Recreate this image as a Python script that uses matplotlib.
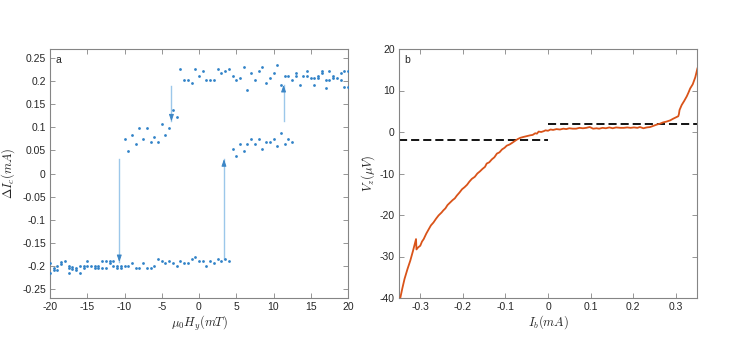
import matplotlib
matplotlib.use("Agg")
import matplotlib.pyplot as plt
import numpy as np

plt.rcParams['font.family'] = ['Liberation Sans', 'DejaVu Sans']
plt.rcParams['mathtext.fontset'] = 'cm'

# ---------------- Panel a data ----------------
low_x = [-20, -20, -19.5, -19.5, -19, -19, -18.5, -18.5, -18, -17.5, -17.5, -17.5,
         -17, -17, -16.5, -16.5, -16, -16, -15.5, -15.5, -15, -15, -14.5, -14, -14,
         -13.5, -13.5, -13, -13, -12.5, -12.5, -12, -12, -11.5, -11.5, -11, -11,
         -10.5, -10.5, -10, -9.5, -9, -8.5, -8, -7.5, -7, -6.5, -6, -5.5, -5, -4.5,
         -4, -3.5, -3, -2.5, -2, -1.5, -1, -0.5, 0, 0.5, 1, 1.5, 2, 2.5, 3, 3.5, 4]
low_y = [-0.195, -0.216, -0.206, -0.209, -0.201, -0.210, -0.197, -0.193, -0.189, -0.204, -0.200, -0.216,
         -0.202, -0.207, -0.209, -0.206, -0.200, -0.216, -0.200, -0.206, -0.190, -0.200, -0.200, -0.204, -0.200,
         -0.204, -0.200, -0.190, -0.204, -0.190, -0.204, -0.190, -0.195, -0.200, -0.190, -0.200, -0.204,
         -0.200, -0.204, -0.200, -0.200, -0.195, -0.204, -0.204, -0.195, -0.204, -0.204, -0.200, -0.186, -0.190, -0.195,
         -0.190, -0.195, -0.200, -0.190, -0.195, -0.195, -0.186, -0.181, -0.190, -0.190, -0.200, -0.190, -0.195, -0.186, -0.190, -0.186, -0.190]

midl_x = [-10, -9.5, -9, -8.5, -8, -7.5, -7, -6.5, -6, -5.5, -5, -4.5, -4, -3.5, -3]
midl_y = [0.074, 0.049, 0.083, 0.063, 0.098, 0.074, 0.098, 0.069, 0.079, 0.069, 0.108, 0.083, 0.098, 0.138, 0.122]

up_x = [-2.5, -2, -1.5, -1, -0.5, 0, 0.5, 1, 1.5, 2, 2.5, 3, 3.5, 4, 4.5, 5, 5.5, 6, 6.5, 7,
        7.5, 8, 8.5, 9, 9.5, 10, 10.5, 11, 11.5, 12, 12.5, 13, 13, 13.5, 14, 14.5, 14.5, 15,
        15.5, 15.5, 16, 16, 16.5, 16.5, 17, 17, 17.5, 17.5, 18, 18, 18.5, 19, 19, 19.5, 19.5, 20, 20]
up_y = [0.227, 0.202, 0.202, 0.197, 0.227, 0.212, 0.222, 0.202, 0.202, 0.202, 0.227, 0.217, 0.222, 0.227, 0.212, 0.202, 0.207, 0.231, 0.182, 0.217,
        0.202, 0.222, 0.231, 0.197, 0.207, 0.217, 0.236, 0.192, 0.212, 0.212, 0.202, 0.217, 0.212, 0.192, 0.212, 0.212, 0.222, 0.207,
        0.192, 0.207, 0.207, 0.212, 0.217, 0.222, 0.185, 0.202, 0.222, 0.202, 0.212, 0.207, 0.207, 0.217, 0.202, 0.222, 0.187, 0.222, 0.187]

midr_x = [4.5, 5, 5.5, 6, 6.5, 7, 7.5, 8, 8.5, 9, 9.5, 10, 10.5, 11, 11.5, 12, 12.5]
midr_y = [0.054, 0.039, 0.064, 0.049, 0.064, 0.074, 0.064, 0.074, 0.054, 0.069, 0.069, 0.074, 0.059, 0.088, 0.064, 0.074, 0.069]

# arrows: x, y_start, y_end
arrow_x = [-10.7, -3.7, 3.35, 11.35]
arrow_y0 = [0.031, 0.190, -0.186, 0.114]
arrow_y1 = [-0.192, 0.113, 0.031, 0.192]

# ---------------- Panel b data ----------------
ib = [-0.347, -0.342, -0.337, -0.330, -0.3235, -0.317, -0.310, -0.309, -0.305, -0.300, -0.296, -0.292,
      -0.286, -0.280, -0.275, -0.269, -0.263, -0.257, -0.250, -0.246, -0.241, -0.236, -0.230, -0.224,
      -0.219, -0.214, -0.208, -0.202, -0.196, -0.190, -0.185, -0.179, -0.172, -0.166, -0.160, -0.154,
      -0.148, -0.144, -0.138, -0.132, -0.126, -0.120, -0.114, -0.108, -0.102, -0.097, -0.090, -0.084,
      -0.077, -0.071, -0.065, -0.058, -0.050, -0.042, -0.036, -0.030, -0.026, -0.022, -0.016, -0.010,
      -0.006, 0.000, 0.006, 0.012, 0.020, 0.028, 0.036, 0.043, 0.050, 0.058, 0.066, 0.074, 0.082,
      0.090, 0.098, 0.106, 0.114, 0.120, 0.128, 0.136, 0.144, 0.152, 0.160, 0.170, 0.178, 0.186,
      0.194, 0.202, 0.210, 0.216, 0.224, 0.232, 0.240, 0.248, 0.256, 0.263, 0.270, 0.278, 0.287,
      0.294, 0.300, 0.306, 0.3075, 0.309, 0.314, 0.320, 0.326, 0.330, 0.334, 0.340, 0.346, 0.351]
vz = [-40.0, -37.6, -35.4, -33.0, -31.0, -28.6, -25.8, -28.3, -27.8, -27.4, -26.4, -25.8,
      -24.5, -23.4, -22.5, -21.8, -20.9, -20.1, -19.4, -18.9, -18.4, -17.6, -17.0, -16.4,
      -16.0, -15.3, -14.6, -13.8, -13.3, -12.7, -12.0, -11.3, -10.8, -10.0, -9.5, -8.9,
      -8.4, -7.6, -7.3, -6.6, -6.1, -5.2, -4.9, -4.2, -3.8, -3.3, -3.0, -2.6,
      -2.1, -1.7, -1.4, -1.2, -1.0, -0.8, -0.7, -0.3, -0.4, 0.1, 0.0, 0.2,
      0.4, 0.3, 0.6, 0.5, 0.7, 0.6, 0.8, 0.7, 0.9, 0.8, 0.8, 1.0, 0.9,
      1.0, 1.2, 0.8, 0.9, 0.8, 1.0, 0.9, 1.1, 0.9, 1.1, 1.0, 1.0, 1.1,
      1.0, 1.1, 1.0, 1.2, 0.9, 1.1, 1.2, 1.5, 1.8, 2.0, 2.3, 2.5, 2.8,
      3.2, 3.5, 3.8, 4.3, 5.3, 6.5, 7.5, 8.6, 9.5, 10.5, 11.5, 13.2, 15.3]

dash_x1 = [-0.35, 0.0]
dash_y1 = [-2, -2]
dash_x2 = [0.0, 0.35]
dash_y2 = [2, 2]

# tick labels
a_xticks = [-20, -15, -10, -5, 0, 5, 10, 15, 20]
a_yticks = [-0.25, -0.2, -0.15, -0.1, -0.05, 0, 0.05, 0.1, 0.15, 0.2, 0.25]
a_yticklabels = ['-0.25', '-0.2', '-0.15', '-0.1', '-0.05', '0', '0.05', '0.1', '0.15', '0.2', '0.25']
b_xticks = [-0.3, -0.2, -0.1, 0, 0.1, 0.2, 0.3]
b_xticklabels = ['-0.3', '-0.2', '-0.1', '0', '0.1', '0.2', '0.3']
b_yticks = [-40, -30, -20, -10, 0, 10, 20]
b_yticklabels = ['-40', '-30', '-20', '-10', '0', '10', '20']

W, H = 747, 349
fig = plt.figure(figsize=(W / 100, H / 100), dpi=100)
axa = fig.add_axes([50 / W, 1 - 298 / H, 298 / W, 249 / H])
axb = fig.add_axes([399 / W, 1 - 298 / H, 298 / W, 249 / H])

dot_c = '#3182c8'
line_c = '#9cc7ea'
spine_c = '#858585'
text_c = '#262626'

for ax in (axa, axb):
    for s in ax.spines.values():
        s.set_color(spine_c)
        s.set_linewidth(0.8)
    ax.tick_params(direction='in', top=True, right=True, length=3.5, width=0.6,
                   color=spine_c, labelsize=7.5, labelcolor=text_c, pad=3)

# panel a
for x, y0, y1 in zip(arrow_x, arrow_y0, arrow_y1):
    axa.plot([x, x], [y0, y1], color=line_c, lw=1.0, zorder=1)
    d = y1 - y0
    axa.annotate('', xy=(x, y1), xytext=(x, y1 - 0.010 * np.sign(d)),
                 arrowprops=dict(arrowstyle='-|>,head_length=0.4,head_width=0.14',
                                 color='#3c86c6', lw=0.7, shrinkA=0, shrinkB=0), zorder=2)
axa.plot(low_x, low_y, 'o', ms=2.0, color=dot_c, mec='none', zorder=3)
axa.plot(midl_x, midl_y, 'o', ms=2.0, color=dot_c, mec='none', zorder=3)
axa.plot(up_x, up_y, 'o', ms=2.0, color=dot_c, mec='none', zorder=3)
axa.plot(midr_x, midr_y, 'o', ms=2.0, color=dot_c, mec='none', zorder=3)
axa.set_xlim(-20, 20)
axa.set_ylim(-0.27, 0.27)
axa.set_xticks(a_xticks)
axa.set_xticklabels([str(v) for v in a_xticks])
axa.set_yticks(a_yticks)
axa.set_yticklabels(a_yticklabels)
axa.set_xlabel(r'$\mu_0H_y(mT)$', fontsize=9, color=text_c, labelpad=1)
axa.set_ylabel(r'$\Delta I_c(mA)$', fontsize=9, color=text_c, labelpad=4)
axa.text(0.018, 0.975, 'a', transform=axa.transAxes, ha='left', va='top', fontsize=7.5, color=text_c)

# panel b
axb.plot(dash_x1, dash_y1, color='black', lw=1.3, dashes=(4.5, 2.2))
axb.plot(dash_x2, dash_y2, color='black', lw=1.3, dashes=(4.5, 2.2))
axb.plot(ib, vz, color='#D95319', lw=1.3, zorder=3)
axb.set_xlim(-0.35, 0.35)
axb.set_ylim(-40, 20)
axb.set_xticks(b_xticks)
axb.set_xticklabels(b_xticklabels)
axb.set_yticks(b_yticks)
axb.set_yticklabels(b_yticklabels)
axb.set_xlabel(r'$I_b(mA)$', fontsize=9, color=text_c, labelpad=1)
axb.set_ylabel(r'$V_z(\mu V)$', fontsize=9, color=text_c, labelpad=2)
axb.text(0.018, 0.975, 'b', transform=axb.transAxes, ha='left', va='top', fontsize=7.5, color=text_c)

fig.savefig('out.png', dpi=100)
